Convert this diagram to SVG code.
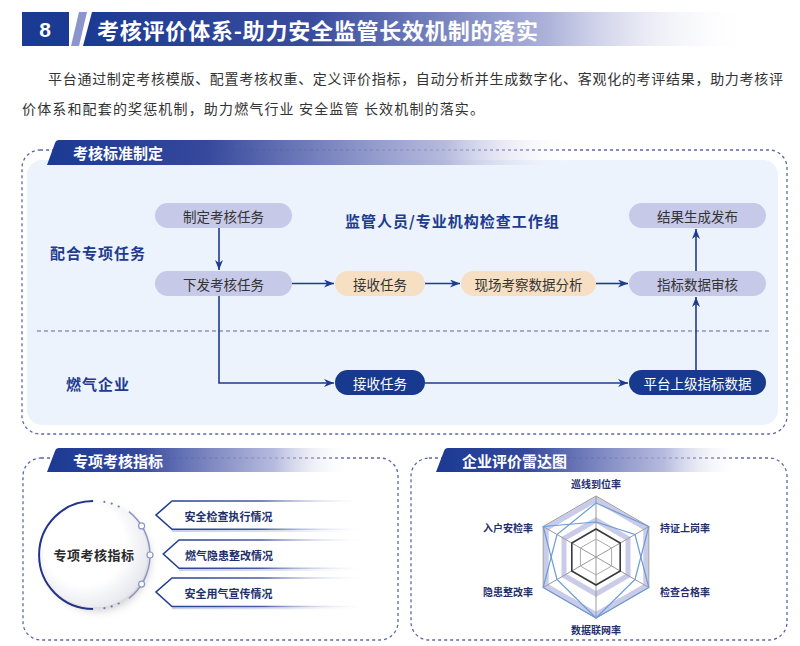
<svg xmlns="http://www.w3.org/2000/svg" width="800" height="646" viewBox="0 0 800 646">
<style>
text{font-family:"Noto Sans CJK SC","Noto Sans",sans-serif;}
.c{text-anchor:middle;dominant-baseline:central;}
.l{dominant-baseline:central;}
.pill{fill:#c6c9e7;}
.peach{fill:#f6dfc2;}
.navy{fill:#173a8e;}
.pt{font-size:13.5px;fill:#333;}
.wt{font-size:13.5px;fill:#fff;}
.lab{font-size:15px;font-weight:bold;fill:#1d3b8f;letter-spacing:1px;}
.tab{font-size:15px;font-weight:bold;fill:#fff;}
.dash{fill:none;stroke:#5c66aa;stroke-width:1.3;stroke-dasharray:3 3;}
.conn{fill:none;stroke:#1d3b8f;stroke-width:1.6;}
.item{font-size:11px;font-weight:bold;fill:#22306a;}
.rl{font-size:10px;font-weight:bold;fill:#1f2f6c;}
.para{font-size:14px;fill:#333;}
</style>
<defs>
<linearGradient id="gTitle" x1="0" y1="0" x2="1" y2="0">
<stop offset="0" stop-color="#1b3a93"/>
<stop offset="0.35" stop-color="#3a4d9f"/>
<stop offset="0.7" stop-color="#aeb3da"/>
<stop offset="1" stop-color="#ffffff" stop-opacity="0"/>
</linearGradient>
<linearGradient id="gTab" x1="0" y1="0" x2="1" y2="0">
<stop offset="0" stop-color="#1b3a93"/>
<stop offset="0.3" stop-color="#35489c"/>
<stop offset="0.75" stop-color="#a9aed8" stop-opacity="0.85"/>
<stop offset="1" stop-color="#ffffff" stop-opacity="0"/>
</linearGradient>
<linearGradient id="gItem" gradientUnits="userSpaceOnUse" x1="156" y1="0" x2="368" y2="0">
<stop offset="0" stop-color="#1d3b8f"/>
<stop offset="0.5" stop-color="#4a5ca8"/>
<stop offset="1" stop-color="#ffffff" stop-opacity="0"/>
</linearGradient>
<linearGradient id="gItemShade" gradientUnits="userSpaceOnUse" x1="156" y1="0" x2="368" y2="0">
<stop offset="0" stop-color="#c9cde6"/>
<stop offset="0.6" stop-color="#dfe2f1"/>
<stop offset="1" stop-color="#ffffff" stop-opacity="0"/>
</linearGradient>
<radialGradient id="gCircle" cx="0.4" cy="0.4" r="0.65">
<stop offset="0.6" stop-color="#ffffff"/>
<stop offset="1" stop-color="#e6e7ee"/>
</radialGradient>
<filter id="shadow" x="-30%" y="-30%" width="160%" height="160%">
<feDropShadow dx="3" dy="4" stdDeviation="4" flood-color="#000" flood-opacity="0.18"/>
</filter>
<marker id="arr" viewBox="0 0 10 8" refX="10" refY="4" markerWidth="10" markerHeight="8" markerUnits="userSpaceOnUse" orient="auto">
<path d="M0,0 L10,4 L0,8 L3,4 z" fill="#1d3b8f"/>
</marker>
</defs>

<!-- Header -->
<g id="header">
<rect x="22" y="12" width="47" height="34" fill="#1b3a93"/>
<text x="45" y="29" class="c" style="font-size:21px;font-weight:bold;fill:#fff;font-family:'Liberation Sans',sans-serif">8</text>
<polygon points="71,46 79,12 87,12 79,46" fill="#8b95cc"/>
<polygon points="83,46 92,12 750,12 750,46" fill="url(#gTitle)"/>
<text x="97" y="29" class="l" style="font-size:22px;font-weight:bold;fill:#fff" textLength="441" lengthAdjust="spacing">考核评价体系-助力安全监管长效机制的落实</text>
</g>

<g id="intro">
<text x="48" y="78" class="l para" textLength="735" lengthAdjust="spacing">平台通过制定考核模版、配置考核权重、定义评价指标，自动分析并生成数字化、客观化的考评结果，助力考核评</text>
<text x="22" y="108" class="l para" textLength="462" lengthAdjust="spacing">价体系和配套的奖惩机制，助力燃气行业 安全监管 长效机制的落实。</text>
</g>

<!-- Section 1 -->
<g id="section1">
<rect x="27" y="160" width="751" height="265" rx="15" fill="#edf3fc"/>
<rect x="22" y="150" width="765" height="284" rx="18" class="dash"/>
<path d="M47,165 L55,143 Q56,140 59,140 L578,140 L578,165 Z" fill="url(#gTab)"/>
<text x="73" y="152" class="l tab">考核标准制定</text>
<line x1="37" y1="331" x2="772" y2="331" stroke="#5c66aa" stroke-width="1.2" stroke-dasharray="4 3"/>
<text x="50" y="252" class="l lab">配合专项任务</text>
<text x="345" y="220" class="l lab">监管人员/专业机构检查工作组</text>
<text x="66" y="383" class="l lab">燃气企业</text>
</g>

<g id="n_zhiding"><rect x="155" y="203" width="137" height="25" rx="12.5" class="pill"/><text x="223.5" y="215.5" class="c pt">制定考核任务</text></g>
<g id="n_xiafa"><rect x="155" y="271" width="137" height="25" rx="12.5" class="pill"/><text x="223.5" y="283.5" class="c pt">下发考核任务</text></g>
<g id="n_jieshou1"><rect x="335" y="271" width="90" height="25" rx="12.5" class="peach"/><text x="380" y="283.5" class="c pt">接收任务</text></g>
<g id="n_xianchang"><rect x="461" y="271" width="135" height="25" rx="12.5" class="peach"/><text x="528.5" y="283.5" class="c pt">现场考察数据分析</text></g>
<g id="n_shenhe"><rect x="629" y="271" width="137" height="25" rx="12.5" class="pill"/><text x="697.5" y="283.5" class="c pt">指标数据审核</text></g>
<g id="n_fabu"><rect x="629" y="203" width="137" height="25" rx="12.5" class="pill"/><text x="697.5" y="215.5" class="c pt">结果生成发布</text></g>
<g id="n_jieshou2"><rect x="335" y="370" width="90" height="25" rx="12.5" class="navy"/><text x="380" y="382.5" class="c wt">接收任务</text></g>
<g id="n_pingtai"><rect x="629" y="370" width="137" height="25" rx="12.5" class="navy"/><text x="697.5" y="382.5" class="c wt">平台上级指标数据</text></g>

<g id="connectors">
<path d="M219,228 V270" class="conn" marker-end="url(#arr)"/>
<path d="M292,283.5 H334" class="conn" marker-end="url(#arr)"/>
<path d="M425,283.5 H460" class="conn" marker-end="url(#arr)"/>
<path d="M596,283.5 H628" class="conn" marker-end="url(#arr)"/>
<path d="M696,271 V229" class="conn" marker-end="url(#arr)"/>
<path d="M219,296 V383 H334" class="conn" marker-end="url(#arr)"/>
<path d="M425,383 H628" class="conn" marker-end="url(#arr)"/>
<path d="M696,370 V297" class="conn" marker-end="url(#arr)"/>
</g>

<!-- Section 2 -->
<g id="section2">
<rect x="23" y="458" width="375" height="182" rx="18" class="dash"/>
<path d="M47,472 L55,451 Q56,448 59,448 L350,448 L350,472 Z" fill="url(#gTab)"/>
<text x="73" y="460" class="l tab">专项考核指标</text>
</g>
<g id="n_circle">
<circle cx="95" cy="555" r="52" fill="url(#gCircle)" filter="url(#shadow)"/>
<path d="M93.1,501 A54,54 0 1 0 93.1,609" fill="none" stroke="#22348a" stroke-width="2"/>
<path d="M128.9,511.7 A55,55 0 0 1 128.9,598.3" fill="none" stroke="#8d95c8" stroke-width="1.5"/>
<g fill="#6d77b5">
<circle cx="104.4" cy="501.8" r="1.1"/><circle cx="111.7" cy="503.6" r="1.1"/><circle cx="118.7" cy="506.5" r="1.1"/>
<circle cx="104.4" cy="608.2" r="1.1"/><circle cx="111.7" cy="606.4" r="1.1"/><circle cx="118.7" cy="603.5" r="1.1"/>
</g>
<g fill="#fff" stroke="#8d95c8" stroke-width="1.2">
<circle cx="141.6" cy="525.9" r="3"/><circle cx="150" cy="555" r="3"/><circle cx="141.6" cy="584.1" r="3"/>
</g>
<text x="94" y="554" class="c" style="font-size:13px;font-weight:bold;fill:#2a2a2a;letter-spacing:0.5px">专项考核指标</text>
</g>
<g id="n_item1">
<path d="M172,531 H370" fill="none" stroke="url(#gItemShade)" stroke-width="2"/>
<path d="M370,501 H172 L156,515 L172,529.3 H370" fill="none" stroke="url(#gItem)" stroke-width="1.6"/>
<text x="184.5" y="516" class="l item">安全检查执行情况</text>
</g>
<g id="n_item2">
<path d="M179,570 H372" fill="none" stroke="url(#gItemShade)" stroke-width="2"/>
<path d="M372,540 H179 L163.3,554 L179,568.3 H372" fill="none" stroke="url(#gItem)" stroke-width="1.6"/>
<text x="185" y="554.5" class="l item">燃气隐患整改情况</text>
</g>
<g id="n_item3">
<path d="M172,608.2 H370" fill="none" stroke="url(#gItemShade)" stroke-width="2"/>
<path d="M370,578 H172 L156,592 L172,606.5 H370" fill="none" stroke="url(#gItem)" stroke-width="1.6"/>
<text x="184.5" y="592.5" class="l item">安全用气宣传情况</text>
</g>

<!-- Section 3 -->
<g id="section3">
<rect x="411" y="458" width="376" height="182" rx="18" class="dash"/>
<path d="M436,472 L444,451 Q445,448 448,448 L740,448 L740,472 Z" fill="url(#gTab)"/>
<text x="462" y="460" class="l tab">企业评价雷达图</text>
</g>
<g id="radar">
<polygon points="596,499.5 645.8,528.3 645.8,585.8 596,614.5 546.2,585.8 546.2,528.3" fill="none" stroke="#c9cbe8" stroke-width="5"/>
<polygon points="596,520 628,538.5 628,575.5 596,594 564,575.5 564,538.5" fill="none" stroke="#c9cbe8" stroke-width="5"/>
<polygon points="596,496 648.8,526.5 648.8,587.5 596,618 543.2,587.5 543.2,526.5" fill="none" stroke="#999" stroke-width="1"/>
<g stroke="#999" stroke-width="1">
<line x1="596" y1="557" x2="596" y2="496"/><line x1="596" y1="557" x2="648.8" y2="526.5"/>
<line x1="596" y1="557" x2="648.8" y2="587.5"/><line x1="596" y1="557" x2="596" y2="618"/>
<line x1="596" y1="557" x2="543.2" y2="587.5"/><line x1="596" y1="557" x2="543.2" y2="526.5"/>
</g>
<polygon points="596,539 611.6,548 611.6,566 596,575 580.4,566 580.4,548" fill="none" stroke="#aaa" stroke-width="1"/>
<polygon points="596,529 620.2,543 620.2,571 596,585 571.8,571 571.8,543" fill="none" stroke="#3a3a3a" stroke-width="1.6"/>
<polygon points="596,503 648.8,526.5 635,579.5 596,618 543.2,587.5 557,534.5" fill="none" stroke="#6b9bd8" stroke-width="1.2"/>
<polygon points="596,522 635,534.5 648.8,587.5 596,618 557,579.5 543.2,526.5" fill="none" stroke="#6b9bd8" stroke-width="1.2"/>
<text x="596" y="483" class="c rl">巡线到位率</text>
<text x="660" y="527" class="l rl">持证上岗率</text>
<text x="660" y="591" class="l rl">检查合格率</text>
<text x="596" y="629.5" class="c rl">数据联网率</text>
<text x="533" y="527" class="l rl" text-anchor="end">入户安检率</text>
<text x="533" y="591" class="l rl" text-anchor="end">隐患整改率</text>
</g>
</svg>
